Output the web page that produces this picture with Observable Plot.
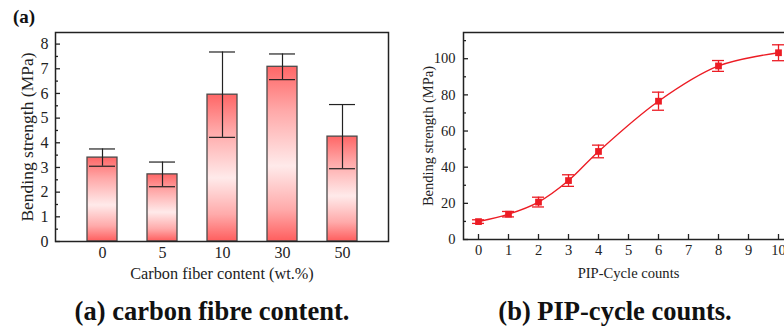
<!DOCTYPE html>
<html><head><meta charset="utf-8">
<script src="https://cdn.jsdelivr.net/npm/d3@7"></script>
<script src="https://cdn.jsdelivr.net/npm/@observablehq/plot@0.6"></script>
<style>
html,body{margin:0;padding:0;background:#fff;width:784px;height:329px;overflow:hidden;position:relative;font-family:"Times New Roman","Liberation Serif",Times,serif;}
.abs{position:absolute;}
svg{max-width:none !important;}
.cap{font-weight:bold;font-size:26.5px;color:#111;white-space:nowrap;transform:translateX(-50%);}
</style></head>
<body>
<div id="a" class="abs" style="left:0;top:0;"></div>
<div id="b" class="abs" style="left:400px;top:0;width:400px;"></div>
<div class="abs" style="left:13px;top:6px;font-weight:bold;font-size:19px;color:#111;">(a)</div>
<div class="abs cap" style="left:212px;top:296px;">(a) carbon fibre content.</div>
<div class="abs cap" style="left:615px;top:296px;">(b) PIP-cycle counts.</div>
<script>
// Panel (a) data
const fiberContent = ["0", "5", "10", "30", "50"];
const fiberStrength = [3.4, 2.72, 5.95, 7.08, 4.25];
const fiberError = [0.35, 0.5, 1.73, 0.52, 1.3];
const yTicksA = [0, 1, 2, 3, 4, 5, 6, 7, 8];
const yMinorA = [0.5, 1.5, 2.5, 3.5, 4.5, 5.5, 6.5, 7.5];

// Panel (b) data
const cycles = [0, 1, 2, 3, 4, 6, 8, 10];
const cycleStrength = [9.9, 14.0, 20.7, 32.6, 48.7, 76.5, 96.0, 103.3];
const cycleError = [1.0, 1.5, 2.7, 3.2, 3.5, 5.0, 3.0, 4.4];
const xTicksB = [0, 1, 2, 3, 4, 5, 6, 7, 8, 9, 10];
const yTicksB = [0, 20, 40, 60, 80, 100];
const yMinorB = [10, 30, 50, 70, 90, 110];

const tableA = fiberContent.map((c, i) => ({c, v: fiberStrength[i], e: fiberError[i]}));
const tableB = cycles.map((x, i) => ({x, y: cycleStrength[i], e: cycleError[i]}));

const ink = "#222";
const serif = "'Times New Roman', 'Liberation Serif', Times, serif";

// ---- Panel A ----
const WA = 400, HA = 290, mA = {top: 32, right: 12, bottom: 49, left: 55};
const pwA = WA - mA.left - mA.right, phA = HA - mA.top - mA.bottom;
const plotA = Plot.plot({
  width: WA, height: HA,
  marginTop: mA.top, marginRight: mA.right, marginBottom: mA.bottom, marginLeft: mA.left,
  style: {fontFamily: serif, fontSize: "16px", color: ink, background: "transparent"},
  x: {domain: fiberContent, padding: 0.5, label: null},
  y: {domain: [0, 8.47], label: null},
  marks: [
    Plot.barY(tableA, {x: "c", y: "v", fill: "url(#barGrad)", stroke: "#4a4a4a", strokeWidth: 1.3}),
    Plot.ruleX(tableA, {x: "c", y1: d => d.v - d.e, y2: d => d.v + d.e, stroke: ink, strokeWidth: 1.2}),
    Plot.tickY(tableA, {x: "c", y: d => d.v + d.e, stroke: ink, strokeWidth: 1.2, insetLeft: 28, insetRight: 28}),
    Plot.tickY(tableA, {x: "c", y: d => d.v - d.e, stroke: ink, strokeWidth: 1.2, insetLeft: 28, insetRight: 28}),
    Plot.ruleY(yTicksA, {y: d => d, stroke: ink, strokeWidth: 1.3, insetRight: pwA - 5}),
    Plot.ruleY(yMinorA, {y: d => d, stroke: ink, strokeWidth: 1.3, insetRight: pwA - 3}),
    Plot.axisY(yTicksA, {tickSize: 0, tickPadding: 7, label: null, fontSize: 16}),
    Plot.axisX({tickSize: 0, tickPadding: 5, label: null, fontSize: 16}),
    Plot.text(["Carbon fiber content (wt.%)"], {frameAnchor: "bottom", lineAnchor: "middle", dy: 32, fontSize: 16.3, fill: ink}),
    Plot.text(["Bending strength (MPa)"], {frameAnchor: "left", textAnchor: "middle", lineAnchor: "middle", dx: -28, rotate: -90, fontSize: 17.5, fill: ink}),
    Plot.frame({stroke: ink, strokeWidth: 1.5})
  ]
});
const defs = d3.select(plotA).insert("defs", ":first-child");
const grad = defs.append("linearGradient").attr("id", "barGrad").attr("x1", 0).attr("y1", 0).attr("x2", 0).attr("y2", 1);
[[0, "#ff6666"], [0.25, "#ffa8a8"], [0.57, "#ffeaea"], [0.82, "#ffaaaa"], [1, "#ff5e5e"]].forEach(([o, c]) =>
  grad.append("stop").attr("offset", o).attr("stop-color", c));
document.getElementById("a").append(plotA);

// ---- Panel B ----
const WB = 400, HB = 290, mB = {top: 32, right: 10, bottom: 51, left: 63};
const pwB = WB - mB.left - mB.right, phB = HB - mB.top - mB.bottom;
const red = "#ec1c24";
const plotB = Plot.plot({
  width: WB, height: HB,
  marginTop: mB.top, marginRight: mB.right, marginBottom: mB.bottom, marginLeft: mB.left,
  style: {fontFamily: serif, fontSize: "14px", color: ink, background: "transparent", overflow: "visible"},
  x: {domain: [-0.5, 10.4], label: null},
  y: {domain: [0, 114.5], label: null},
  marks: [
    Plot.line(tableB, {x: "x", y: "y", stroke: red, strokeWidth: 1.4, curve: "catmull-rom"}),
    Plot.ruleX(tableB, {x: "x", y1: d => d.y - d.e, y2: d => d.y + d.e, stroke: red, strokeWidth: 1.3}),
    Plot.ruleY(tableB, {y: d => d.y + d.e, x1: d => d.x - 0.2, x2: d => d.x + 0.2, stroke: red, strokeWidth: 1.3}),
    Plot.ruleY(tableB, {y: d => d.y - d.e, x1: d => d.x - 0.2, x2: d => d.x + 0.2, stroke: red, strokeWidth: 1.3}),
    Plot.dot(tableB, {x: "x", y: "y", symbol: "square", r: 3.8, fill: red, stroke: "none"}),
    Plot.ruleY(yTicksB, {y: d => d, stroke: ink, strokeWidth: 1.3, insetRight: pwB - 5}),
    Plot.ruleY(yMinorB, {y: d => d, stroke: ink, strokeWidth: 1.3, insetRight: pwB - 3}),
    Plot.ruleX(xTicksB, {x: d => d, stroke: ink, strokeWidth: 1.3, insetTop: phB - 5}),
    Plot.axisY(yTicksB, {tickSize: 0, tickPadding: 8, label: null, fontSize: 14.5}),
    Plot.axisX(xTicksB, {tickSize: 0, tickPadding: 5, label: null, fontSize: 14.5}),
    Plot.text(["PIP-Cycle counts"], {x: 5, frameAnchor: "bottom", lineAnchor: "middle", dy: 34, fontSize: 14.6, fill: ink}),
    Plot.text(["Bending strength (MPa)"], {frameAnchor: "left", textAnchor: "middle", lineAnchor: "middle", dx: -35, rotate: -90, fontSize: 14.5, fill: ink}),
    Plot.frame({stroke: ink, strokeWidth: 1.5})
  ]
});
document.getElementById("b").append(plotB);
</script>
</body></html>
